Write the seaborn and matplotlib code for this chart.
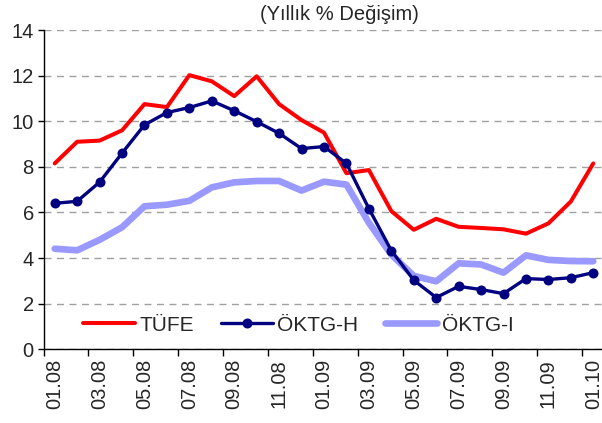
import numpy as np
import matplotlib
matplotlib.use("Agg")
import matplotlib.pyplot as plt
import seaborn as sns

# ── Data ───────────────────────────────────────────────────────────────────────
months = ["01.08", "02.08", "03.08", "04.08", "05.08", "06.08", "07.08", "08.08",
          "09.08", "10.08", "11.08", "12.08", "01.09", "02.09", "03.09", "04.09",
          "05.09", "06.09", "07.09", "08.09", "09.09", "10.09", "11.09", "12.09",
          "01.10"]
tufe   = [8.15, 9.1, 9.15, 9.6, 10.75, 10.62, 12.02, 11.75, 11.1, 11.97, 10.75,
          10.05, 9.5, 7.72, 7.86, 6.06, 5.24, 5.72, 5.37, 5.32, 5.26, 5.07, 5.52,
          6.48, 8.15]
oktg_h = [6.4, 6.49, 7.33, 8.6, 9.84, 10.38, 10.6, 10.89, 10.46, 9.98, 9.47,
          8.8, 8.89, 8.15, 6.17, 4.33, 3.03, 2.27, 2.76, 2.62, 2.44, 3.1, 3.06,
          3.14, 3.36]
oktg_i = [4.41, 4.34, 4.8, 5.35, 6.27, 6.34, 6.51, 7.1, 7.32, 7.38, 7.38, 6.96,
          7.35, 7.22, 5.55, 4.15, 3.22, 2.98, 3.77, 3.72, 3.36, 4.12, 3.92, 3.87,
          3.86]

# ── Style ──────────────────────────────────────────────────────────────────────
sns.set_theme(style="white")
plt.rcParams["font.family"] = ["Liberation Sans", "DejaVu Sans"]

fig = plt.figure(figsize=(6.02, 4.23), dpi=100)
ax = fig.add_axes([43.5 / 602, 1 - 349.3 / 423, 561 / 602, 319.3 / 423])

x = np.arange(len(months))
sns.lineplot(x=x, y=oktg_i, ax=ax, color="#9999FF", lw=4.8, label="ÖKTG-I",
             zorder=2)
sns.lineplot(x=x, y=tufe, ax=ax, color="#FF0000", lw=2.9, label="TÜFE",
             zorder=3)
sns.lineplot(x=x, y=oktg_h, ax=ax, color="#000080", lw=2.4, marker="o",
             markersize=7.2, markeredgewidth=0, label="ÖKTG-H", zorder=4)

ax.set_xlim(-0.5, len(months) - 0.5)
ax.set_ylim(0, 14)
ax.set_yticks(np.arange(0, 15, 2))
ax.yaxis.grid(True, color="#A0A0A0", linestyle=(0, (5, 4)), linewidth=1)
ax.set_axisbelow(True)

# labels on every other month, tick marks on category borders
ax.set_xticks(x[::2])
ax.set_xticklabels(months[::2], rotation=90)
ax.set_xticks(np.arange(-0.5, len(months), 2), minor=True)
ax.tick_params(axis="x", which="major", length=0, pad=7, labelsize=14.5)
ax.tick_params(axis="x", which="minor", length=5, width=1, color="black",
               direction="out", bottom=True)
ax.tick_params(axis="y", length=4, width=1, color="black", direction="out",
               left=True, labelsize=14.5, pad=3)

for side in ["top", "right"]:
    ax.spines[side].set_visible(False)
for side in ["left", "bottom"]:
    ax.spines[side].set_color("black")
    ax.spines[side].set_linewidth(1)

handles, labels = ax.get_legend_handles_labels()
order = [labels.index(n) for n in ["TÜFE", "ÖKTG-H", "ÖKTG-I"]]
ax.legend([handles[i] for i in order], [labels[i] for i in order],
          loc="center left", bbox_to_anchor=(83 / 602, 1 - 325 / 423),
          bbox_transform=fig.transFigure, ncol=3, frameon=False,
          fontsize=15, borderpad=0, borderaxespad=0, handlelength=2.5,
          handletextpad=0.2, columnspacing=1.3)

fig.text(339 / 602, 1 - 14 / 423, "(Yıllık % Değişim)", ha="center",
         va="center", fontsize=14.5)

fig.savefig("out.png", dpi=100)
